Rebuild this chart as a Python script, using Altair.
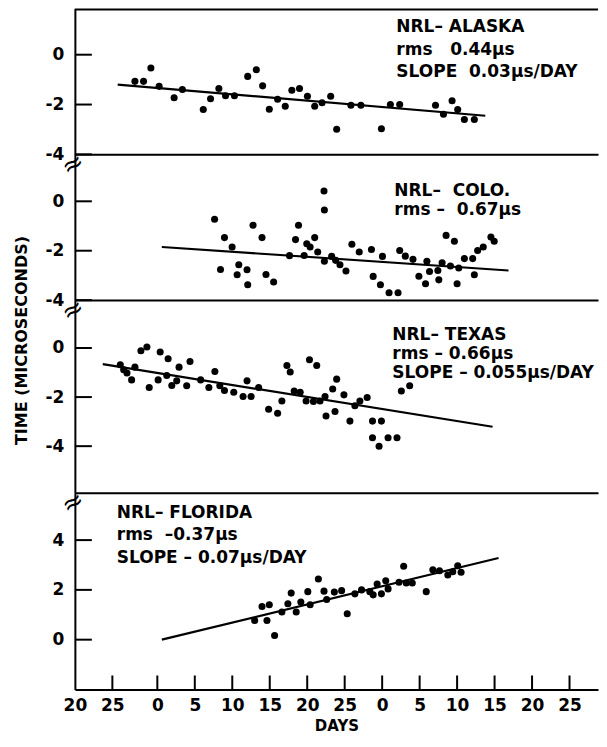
import json
import altair as alt
import pandas as pd

FONT = "DejaVu Sans"
W = 524
X_DOMAIN = [-11, 58.8]
NB = "\u00a0"

# x-axis: continuous day index, labelled as day of month
tick_days = [-11, -6, 0, 5, 10, 15, 20, 25, 30, 35, 40, 45, 50, 55]
tick_labels = ["20", "25", "0", "5", "10", "15", "20", "25", "0", "5", "10", "15", "20", "25"]

# NRL - ALASKA
alaska_t = [-2.99, -1.84, -0.86, 0.24, 2.24, 3.34, 6.13, 7.10, 8.21, 9.10, 10.29, 12.06,
            13.21, 14.05, 14.94, 16.05, 17.07, 17.95, 18.97, 20.03, 21.0, 21.98, 23.13,
            23.93, 25.83, 27.16, 29.9, 31.1, 32.34, 37.12, 38.18, 39.33, 40.08, 40.97, 42.3]
alaska_v = [-1.07, -1.07, -0.53, -1.27, -1.73, -1.40, -2.2, -1.77, -1.36, -1.65, -1.65, -0.87,
            -0.6, -1.25, -2.19, -1.79, -2.07, -1.43, -1.36, -1.67, -2.07, -1.93, -1.67,
            -2.99, -2.03, -2.03, -2.97, -2.0, -2.0, -2.03, -2.39, -1.85, -2.2, -2.6, -2.6]
alaska_fit_t = [-5.29, 43.76]
alaska_fit_v = [-1.2, -2.45]

# NRL - COLO.
colo_t = [7.64, 8.43, 8.96, 9.98, 10.87, 10.65, 11.97, 12.06, 12.77, 13.97, 14.5, 15.52,
          17.64, 18.44, 18.84, 19.59, 19.94, 20.39, 21.0, 21.4, 22.24, 22.29, 22.29, 23.26,
          23.79, 24.37, 25.17, 25.96, 26.94, 28.57, 28.8, 29.77, 30.04, 30.92, 32.12, 32.34,
          33.09, 34.11, 34.9, 35.79, 35.97, 36.32, 37.43, 37.56, 38.0, 38.53, 39.11, 39.64,
          40.0, 40.22, 40.97, 42.3, 42.08, 42.74, 43.49, 44.51, 44.95]
colo_v = [-0.73, -2.76, -1.47, -1.85, -2.57, -2.97, -2.77, -3.38, -0.97, -1.47, -2.96, -3.27,
          -2.2, -1.55, -0.97, -2.19, -1.72, -1.85, -1.47, -2.05, 0.42, -0.35, -2.43, -2.23,
          -2.39, -2.57, -2.82, -1.74, -2.05, -1.95, -3.04, -3.38, -2.23, -3.7, -3.7, -1.99,
          -2.22, -2.35, -3.03, -3.34, -2.43, -2.84, -2.8, -3.18, -2.49, -1.38, -2.62, -1.62,
          -3.34, -2.7, -2.32, -2.97, -2.32, -1.99, -1.85, -1.45, -1.62]
colo_fit_t = [0.6, 46.86]
colo_fit_v = [-1.85, -2.8]

# NRL - TEXAS
texas_t = [-4.94, -4.49, -4.05, -3.43, -2.99, -2.19, -1.39, -1.08, 0.11, 0.38, 1.26, 1.44,
           1.93, 2.59, 2.9, 3.92, 4.36, 5.78, 6.88, 7.68, 8.34, 8.96, 10.2, 11.44, 11.97,
           12.51, 13.52, 14.85, 16.05, 16.62, 17.29, 17.73, 18.26, 19.06, 19.85, 20.3, 21.27,
           20.83, 21.71, 22.38, 22.51, 23.4, 23.71, 23.93, 24.9, 25.7, 26.36, 27.03, 28.0,
           28.71, 29.9, 28.71, 29.59, 30.79, 31.98, 32.56, 33.67]
texas_v = [-0.68, -0.89, -1.02, -1.3, -0.78, -0.11, 0.04, -1.61, -1.3, -0.16, -1.12, -0.44,
           -1.53, -1.34, -0.78, -1.54, -0.55, -1.3, -1.61, -0.96, -1.54, -1.73, -1.8, -1.98,
           -1.34, -1.98, -1.61, -2.5, -2.66, -2.16, -0.71, -0.98, -1.75, -1.8, -2.16, -0.48,
           -0.71, -2.18, -2.16, -1.98, -2.77, -1.67, -2.59, -1.27, -1.91, -2.98, -2.35, -2.16,
           -2.02, -2.98, -2.98, -3.66, -4.0, -3.66, -3.66, -1.75, -1.54]
texas_fit_t = [-7.28, 44.73]
texas_fit_v = [-0.66, -3.21]

# NRL - FLORIDA
florida_t = [12.99, 13.97, 14.63, 14.94, 15.65, 16.62, 17.42, 17.86, 18.53, 19.15, 20.08,
             20.39, 21.49, 22.24, 22.6, 23.62, 24.59, 25.34, 26.36, 27.25, 28.35, 28.8, 29.33,
             29.9, 30.48, 30.79, 32.25, 32.87, 33.22, 34.02, 35.88, 36.76, 37.65, 38.76,
             39.42, 40.08, 40.53]
florida_v = [0.77, 1.33, 0.77, 1.4, 0.17, 1.11, 1.44, 1.87, 1.11, 1.51, 1.93, 1.4, 2.44,
             1.95, 1.61, 1.91, 1.97, 1.04, 1.84, 2.0, 1.93, 1.8, 2.24, 1.84, 2.37, 2.04, 2.31,
             2.95, 2.28, 2.28, 1.93, 2.81, 2.77, 2.6, 2.73, 2.97, 2.71]
florida_fit_t = [0.6, 45.53]
florida_fit_v = [0.0, 3.28]

alaska_text = ["NRL\u2013 ALASKA", f"rms{NB}{NB}{NB}0.44\u00b5s", f"SLOPE{NB}{NB}0.03\u00b5s/DAY"]
colo_text = [f"NRL\u2013{NB}{NB}COLO.", f"rms \u2013{NB}{NB}0.67\u00b5s"]
texas_text = ["NRL\u2013 TEXAS", "rms \u2013 0.66\u00b5s", "SLOPE \u2013 0.055\u00b5s/DAY"]
florida_text = ["NRL\u2013 FLORIDA", f"rms{NB}{NB}\u20130.37\u00b5s", "SLOPE \u2013 0.07\u00b5s/DAY"]

x_label_expr = f"{json.dumps(tick_labels)}[indexof({json.dumps(tick_days)}, datum.value)]"
y_label_expr = "datum.value < 0 ? '-' + abs(datum.value) : '' + datum.value"


def make_panel(t, v, fit_t, fit_v, ydom, yticks, height, lines, tx, ty, lh,
               bottom=False, top_border=False, brk=True, ytitle=None):
    xs = alt.Scale(domain=X_DOMAIN, nice=False, zero=False)
    ys = alt.Scale(domain=ydom, nice=False, zero=False)
    if bottom:
        xaxis = alt.Axis(values=tick_days, labelExpr=x_label_expr, ticks=False, tickSize=0,
                         labelPadding=8, title="DAYS", titlePadding=5, titleFontSize=15,
                         domainWidth=2, grid=False, labelFlush=False, labelOverlap=False)
    else:
        xaxis = alt.Axis(labels=False, ticks=False, tickSize=0, title=None,
                         domainWidth=2, grid=False)
    yk = dict(values=yticks, ticks=False, tickSize=0, labelPadding=11, domainWidth=2,
              grid=False, labelExpr=y_label_expr, labelFlush=False, labelOverlap=False)
    if ytitle:
        yk.update(title=ytitle, titleX=-53, titleY=40, titleAngle=270, titleAlign="center",
                  titleBaseline="middle", titleFontSize=16)
    else:
        yk.update(title=None)

    pts = alt.Chart(pd.DataFrame({"t": t, "v": v})).mark_circle(
        size=50, color="black", opacity=1).encode(
        x=alt.X("t:Q", scale=xs, axis=xaxis),
        y=alt.Y("v:Q", scale=ys, axis=alt.Axis(**yk)))
    fit = alt.Chart(pd.DataFrame({"t": fit_t, "v": fit_v})).mark_line(
        color="black", strokeWidth=2.2).encode(
        x=alt.X("t:Q", scale=xs), y=alt.Y("v:Q", scale=ys))
    ytick = alt.Chart(pd.DataFrame({"v": yticks})).mark_rule(
        color="black", strokeWidth=2).encode(
        y=alt.Y("v:Q", scale=ys), x=alt.value(0), x2=alt.value(17))
    txt = alt.Chart(pd.DataFrame({"a": [0]})).mark_text(
        align="left", baseline="alphabetic", lineBreak="\n", lineHeight=lh, font=FONT,
        fontSize=17, fontWeight="bold", color="black").encode(
        x=alt.value(tx), y=alt.value(ty), text=alt.value("\n".join(lines)))
    layers = [pts, fit, ytick, txt]
    if bottom:
        xt = alt.Chart(pd.DataFrame({"t": [d for d in tick_days if d > X_DOMAIN[0]]})).mark_rule(
            color="black", strokeWidth=2).encode(
            x=alt.X("t:Q", scale=xs), y=alt.value(height - 14), y2=alt.value(height))
        layers.append(xt)
    if top_border:
        tb = alt.Chart(pd.DataFrame({"a": [0]})).mark_rule(color="black", strokeWidth=2).encode(
            x=alt.value(0), x2=alt.value(W), y=alt.value(1))
        layers.append(tb)
    if brk:
        bm = alt.Chart(pd.DataFrame({"a": [0]})).mark_text(
            text="\u2248", font=FONT, fontSize=26, angle=330, align="center",
            baseline="middle", color="black").encode(x=alt.value(-2), y=alt.value(10))
        layers.append(bm)
    return alt.layer(*layers).properties(width=W, height=height)


p1 = make_panel(alaska_t, alaska_v, alaska_fit_t, alaska_fit_v, [-4, 1.85], [0, -2, -4], 146,
                alaska_text, 322, 23, 23, top_border=True, brk=False)
p2 = make_panel(colo_t, colo_v, colo_fit_t, colo_fit_v, [-4, 1.9], [0, -2, -4], 146,
                colo_text, 320, 42, 19)
p3 = make_panel(texas_t, texas_v, texas_fit_t, texas_fit_v, [-5.9, 1.95], [0, -2, -4], 193,
                texas_text, 318, 40, 19, ytitle="TIME  (MICROSECONDS)")
p4 = make_panel(florida_t, florida_v, florida_fit_t, florida_fit_v, [-2, 5.9], [4, 2, 0], 197,
                florida_text, 42, 25, 22.5, bottom=True)

chart = alt.vconcat(p1, p2, p3, p4, spacing=0, bounds="flush",
                    padding={"left": 5, "top": 0, "right": 0, "bottom": 0}).configure_view(
    stroke=None).configure_axis(
    labelFont=FONT, labelFontSize=17, labelFontWeight="bold", labelColor="black",
    titleFont=FONT, titleFontWeight="bold", titleColor="black", domainColor="black")

chart.save("out.html", embed_options={"renderer": "svg", "actions": False})
